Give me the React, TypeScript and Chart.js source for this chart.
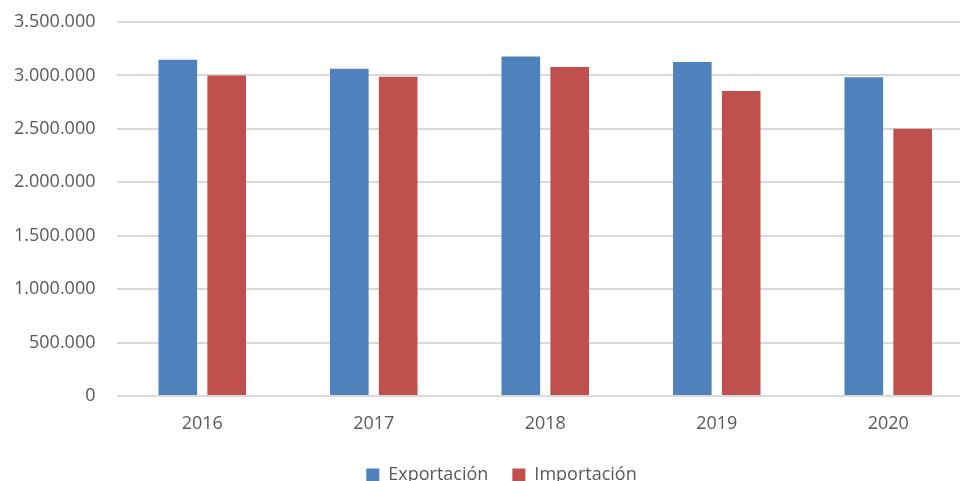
import React, { useEffect, useRef } from "react";
import { Chart, registerables } from "chart.js";

Chart.register(...registerables);

const categories = ["2016", "2017", "2018", "2019", "2020"];
const exportacion = [3146000, 3062000, 3177000, 3125000, 2984000];
const importacion = [2999000, 2987000, 3078000, 2855000, 2502000];
const seriesNames = ["Exportación", "Importación"];

const fmt = (v: number) => String(Math.round(v)).replace(/\B(?=(\d{3})+(?!\d))/g, ".");

export default function App() {
  const ref = useRef<HTMLCanvasElement | null>(null);
  useEffect(() => {
    if (!ref.current) return;
    const font = { family: "'Open Sans', sans-serif", size: 18 };
    const chart = new Chart(ref.current, {
      type: "bar",
      data: {
        labels: categories,
        datasets: [
          {
            label: seriesNames[0],
            data: exportacion,
            backgroundColor: "#4F81BD",
            categoryPercentage: 0.57,
            barPercentage: 0.79,
          },
          {
            label: seriesNames[1],
            data: importacion,
            backgroundColor: "#C0504D",
            categoryPercentage: 0.57,
            barPercentage: 0.79,
          },
        ],
      },
      options: {
        responsive: false,
        animation: false,
        layout: { padding: { top: 22, right: 0, left: 0, bottom: 0 } },
        scales: {
          x: {
            grid: { display: false, drawTicks: false },
            border: { display: false },
            ticks: { color: "#595959", font, padding: 17 },
            afterFit: (s: any) => {
              s.height = 46;
            },
          },
          y: {
            min: 0,
            max: 3500000,
            grid: { color: "#D9D9D9", lineWidth: 2, drawTicks: false },
            border: { display: false },
            ticks: {
              stepSize: 500000,
              color: "#595959",
              font,
              padding: 21,
              callback: (v: any) => fmt(Number(v)),
            },
            afterFit: (s: any) => {
              s.width = 116.5;
              s.paddingTop = 10;
              s.paddingBottom = 10;
            },
          },
          yRight: {
            position: "right",
            min: 0,
            max: 3500000,
            grid: { display: false, drawTicks: false },
            border: { display: false },
            ticks: { display: false },
            afterFit: (s: any) => {
              s.width = 29;
              s.paddingTop = 0;
              s.paddingBottom = 0;
            },
          },
        },
        plugins: {
          legend: {
            position: "bottom",
            labels: {
              color: "#595959",
              font,
              boxWidth: 13,
              boxHeight: 13,
              padding: 24,
            },
          },
          tooltip: { enabled: false },
        },
      },
    });
    return () => chart.destroy();
  }, []);
  return (
    <div style={{ position: "fixed", left: 0, top: 0, width: 960, height: 481, overflow: "hidden", background: "#fff" }}>
      <canvas ref={ref} width={1003} height={494} style={{ display: "block" }} />
    </div>
  );
}
